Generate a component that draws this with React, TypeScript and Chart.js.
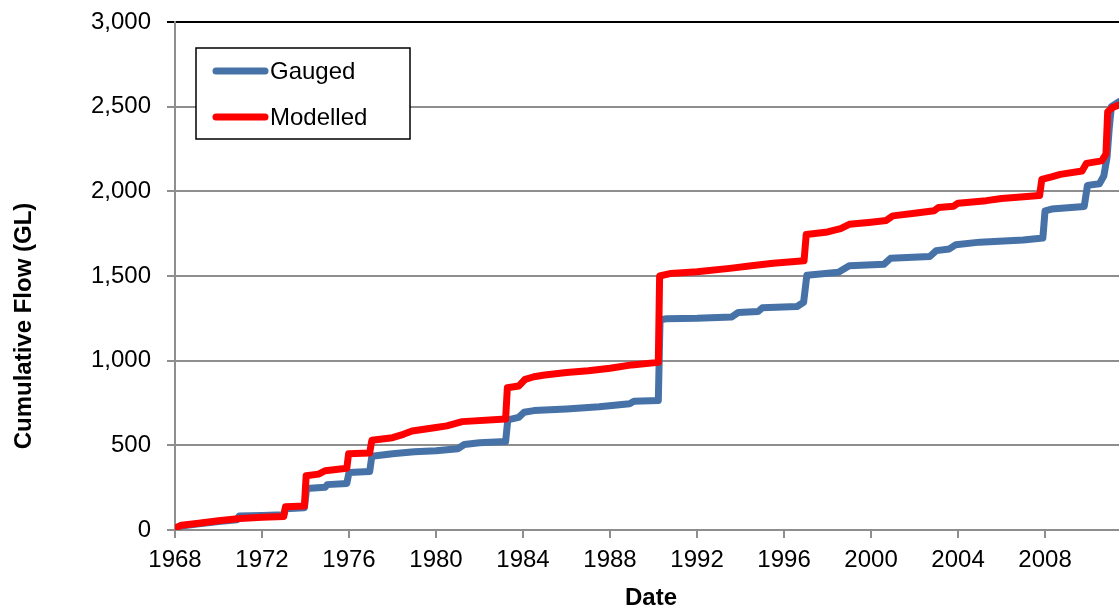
import React, { useEffect, useRef } from "react";
import { Chart, registerables } from "chart.js";

Chart.register(...registerables);

const xTickStep = 4;
const xMin = 1968;
const xMax = 2011.4;
const yMax = 3000;
const yStep = 500;

const gaugedYears = [
  1968.0, 1968.2, 1969.0, 1970.0, 1970.85, 1970.95, 1972.0, 1973.0, 1973.08, 1973.95,
  1974.05, 1974.9, 1975.0, 1975.9, 1976.0, 1976.95, 1977.05, 1978.0, 1979.0, 1980.0,
  1981.0, 1981.3, 1982.0, 1983.2, 1983.3, 1983.8, 1984.05, 1984.5, 1986.0, 1987.5,
  1988.9, 1989.1, 1990.22, 1990.3, 1990.6, 1992.0, 1993.6, 1993.9, 1994.8, 1995.0,
  1996.6, 1996.9, 1997.05, 1998.5, 1999.0, 2000.6, 2000.9, 2002.7, 2003.0, 2003.6,
  2003.9, 2005.0, 2007.0, 2007.9, 2008.0, 2008.3, 2009.8, 2009.95, 2010.5, 2010.7,
  2010.85, 2010.95, 2011.05, 2011.4,
];
const gaugedFlow = [
  10, 22, 35, 50, 60, 82, 85, 90, 125, 132,
  245, 252, 268, 275, 340, 345, 435, 450, 462, 468,
  480, 505, 515, 522, 650, 665, 695, 705, 715, 728,
  745, 760, 765, 1240, 1248, 1250, 1258, 1285, 1290, 1312,
  1320, 1345, 1505, 1522, 1560, 1570, 1605, 1615, 1650, 1660,
  1685, 1700, 1712, 1725, 1885, 1895, 1910, 2035, 2045, 2090,
  2200, 2370, 2500, 2530,
];

const modelledYears = [
  1968.0, 1968.3, 1969.0, 1970.0, 1971.0, 1972.0, 1973.0, 1973.08, 1973.95, 1974.03,
  1974.6, 1974.9, 1975.9, 1975.98, 1976.95, 1977.05, 1978.0, 1978.5, 1978.9, 1980.0,
  1980.5, 1981.2, 1983.2, 1983.28, 1983.8, 1984.1, 1984.5, 1985.0, 1986.0, 1987.0,
  1988.0, 1989.0, 1990.22, 1990.28, 1990.8, 1992.0, 1993.5, 1994.5, 1995.5, 1996.92,
  1997.02, 1998.0, 1998.6, 1999.0, 2000.0, 2000.7, 2001.0, 2002.0, 2002.9, 2003.1,
  2003.8, 2004.0, 2005.3, 2006.0, 2007.75, 2007.85, 2008.3, 2008.7, 2009.7, 2009.9,
  2010.6, 2010.8, 2010.88, 2011.1, 2011.4,
];
const modelledFlow = [
  10, 28, 38, 55, 68, 75, 80, 138, 142, 320,
  330, 350, 365, 450, 455, 530, 545, 565, 585, 605,
  615, 640, 655, 840, 850, 890, 905, 915, 930, 940,
  955, 975, 990, 1500, 1515, 1525, 1545, 1560, 1575, 1590,
  1745, 1760, 1780, 1805, 1818, 1828, 1855, 1870, 1885, 1905,
  1912, 1930, 1945, 1958, 1975, 2070, 2085, 2100, 2120, 2165,
  2180, 2220, 2470, 2495, 2510,
];

const seriesNames = ["Gauged", "Modelled"];
const seriesColors = ["#4672a8", "#ff0000"];
const yTitle = "Cumulative Flow (GL)";
const xTitle = "Date";

const FONT = "'Liberation Sans', Arial, sans-serif";

function toPoints(xs: number[], ys: number[]) {
  return xs.map((x, i) => ({ x, y: ys[i] }));
}

const decorPlugin = {
  id: "decor",
  afterDraw(chart: any) {
    const ctx = chart.ctx as CanvasRenderingContext2D;
    const area = chart.chartArea;
    ctx.save();
    ctx.fillStyle = "#000";
    ctx.font = `bold 24px ${FONT}`;
    ctx.textAlign = "center";
    ctx.textBaseline = "alphabetic";
    ctx.save();
    ctx.translate(31, 326);
    ctx.rotate(-Math.PI / 2);
    ctx.fillText(yTitle, 0, 0);
    ctx.restore();
    ctx.fillText(xTitle, (area.left + area.right) / 2 + 4, 605);

    ctx.fillStyle = "#fff";
    ctx.fillRect(196, 48, 214, 91);
    ctx.strokeStyle = "#000";
    ctx.lineWidth = 1.5;
    ctx.strokeRect(196, 48, 214, 91);
    const rows = [71, 117];
    seriesNames.forEach((name, i) => {
      const y = rows[i];
      ctx.strokeStyle = seriesColors[i];
      ctx.lineWidth = 7;
      ctx.lineCap = "round";
      ctx.beginPath();
      ctx.moveTo(216, y);
      ctx.lineTo(265, y);
      ctx.stroke();
      ctx.fillStyle = "#000";
      ctx.font = `24px ${FONT}`;
      ctx.textAlign = "left";
      ctx.textBaseline = "alphabetic";
      ctx.fillText(name, 270, y + 8);
    });
    ctx.restore();
  },
};

export default function App() {
  const canvasRef = useRef<HTMLCanvasElement | null>(null);

  useEffect(() => {
    if (!canvasRef.current) return;
    const chart = new Chart(canvasRef.current, {
      type: "line",
      data: {
        datasets: [
          {
            label: seriesNames[0],
            data: toPoints(gaugedYears, gaugedFlow),
            borderColor: seriesColors[0],
            backgroundColor: seriesColors[0],
            borderWidth: 7,
            pointRadius: 0,
            tension: 0,
            borderCapStyle: "round",
            borderJoinStyle: "round",
            order: 1,
          },
          {
            label: seriesNames[1],
            data: toPoints(modelledYears, modelledFlow),
            borderColor: seriesColors[1],
            backgroundColor: seriesColors[1],
            borderWidth: 7,
            pointRadius: 0,
            tension: 0,
            borderCapStyle: "round",
            borderJoinStyle: "round",
            order: 0,
          },
        ],
      },
      options: {
        animation: false,
        responsive: false,
        maintainAspectRatio: false,
        layout: { padding: { top: 22, right: 0, bottom: 0, left: 0 } },
        plugins: {
          legend: { display: false },
          tooltip: { enabled: false },
        },
        scales: {
          x: {
            type: "linear",
            min: xMin,
            max: xMax,
            afterFit: (scale: any) => {
              scale.height = 79;
              scale.paddingLeft = 0;
              scale.paddingRight = 0;
            },
            grid: {
              drawOnChartArea: false,
              drawTicks: true,
              tickLength: 8,
              color: "#8e8e8e",
              lineWidth: 2,
            },
            border: { display: true, color: "#8e8e8e", width: 2 },
            ticks: {
              stepSize: xTickStep,
              includeBounds: false,
              autoSkip: false,
              maxRotation: 0,
              padding: 8,
              color: "#000",
              font: { family: FONT, size: 24 },
              callback: (v: any) => String(v),
            },
          },
          y: {
            type: "linear",
            min: 0,
            max: yMax,
            afterFit: (scale: any) => {
              scale.width = 175;
              scale.paddingTop = 0;
              scale.paddingBottom = 0;
            },
            grid: {
              drawOnChartArea: true,
              drawTicks: true,
              tickLength: 8,
              color: (c: any) => (c.tick && c.tick.value === yMax ? "#000" : "#8e8e8e"),
              lineWidth: 2,
            },
            border: { display: true, color: "#8e8e8e", width: 2 },
            ticks: {
              stepSize: yStep,
              padding: 16,
              color: "#000",
              font: { family: FONT, size: 24 },
              callback: (v: any) => Number(v).toLocaleString("en-US"),
            },
          },
        },
      },
      plugins: [decorPlugin],
    });
    return () => chart.destroy();
  }, []);

  return (
    <div style={{ position: "absolute", left: 0, top: 0, width: 1119, height: 609, background: "#fff" }}>
      <canvas ref={canvasRef} width={1119} height={609} style={{ display: "block" }} />
    </div>
  );
}
